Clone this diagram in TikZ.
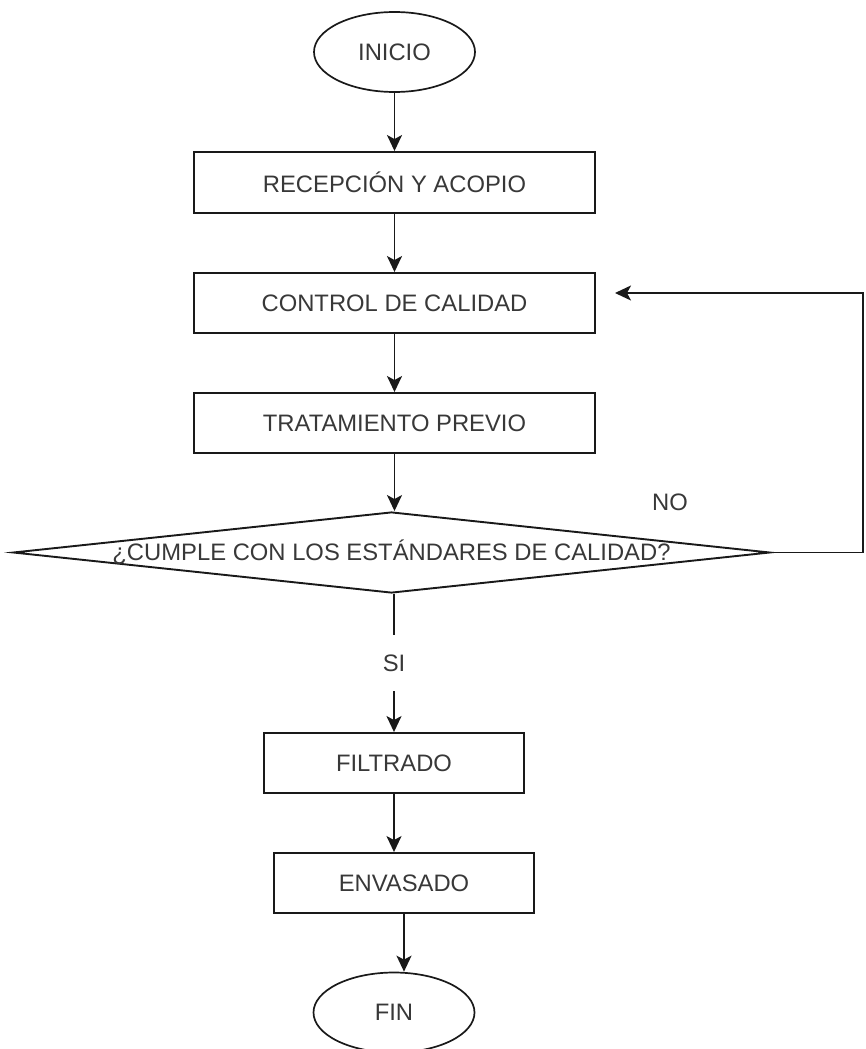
\documentclass[tikz,border=0pt]{standalone}
\usepackage{fontspec}
\setmainfont{Liberation Sans}
\usetikzlibrary{shapes.geometric,arrows.meta}

\begin{document}
\begin{tikzpicture}[x=1pt,y=-1pt,
  font=\fontsize{23.8}{28}\selectfont,
  every node/.style={text=black!78},
  line/.style={draw=black!90, line width=1.9pt},
  flow/.style={line, -{Stealth[length=16pt,width=15pt,inset=4pt]}},
  terminal/.style={ellipse, draw=black!90, line width=1.7pt, inner sep=0pt,
                   minimum width=161pt, minimum height=80pt},
  process/.style={rectangle, draw=black!90, line width=1.9pt, inner sep=0pt,
                  minimum height=60pt},
  decision/.style={diamond, draw=black!90, line width=1.9pt, inner sep=0pt,
                   minimum width=757pt, minimum height=81pt}
]
\useasboundingbox (0,0) rectangle (865,1049);

% start / end
\node[terminal] (inicio) at (394.5,52) {INICIO};
\node[terminal] (fin) at (394,1012.5) {FIN};

% process steps
\node[process, minimum width=401pt, minimum height=61pt] (recep) at (394.5,182.5) {RECEPCIÓN Y ACOPIO};
\node[process, minimum width=401pt] (control) at (394.5,303) {CONTROL DE CALIDAD};
\node[process, minimum width=401pt] (trat) at (394.5,423) {TRATAMIENTO PREVIO};
\node[process, minimum width=260pt] (filtrado) at (394,763) {FILTRADO};
\node[process, minimum width=260pt] (envasado) at (404,883) {ENVASADO};

% quality decision
\node[decision, label={center:¿CUMPLE CON LOS ESTÁNDARES DE CALIDAD?}] (dec) at (391.5,552.5) {};

% return path
\coordinate (corner) at (863,552.5);
\coordinate (back) at (615,293);

% connectors
\draw[flow] (inicio) -- (recep);
\draw[flow] (recep) -- (control);
\draw[flow] (control) -- (trat);
\draw[flow] (trat.south) -- (trat.south |- dec.north);
\draw[flow] (dec.south -| filtrado.north) -- node[fill=white, inner xsep=6pt, inner ysep=20pt] (si) {SI} (filtrado.north);
\draw[flow] (filtrado.south) -- (filtrado.south |- envasado.north);
\draw[flow] (envasado.south) -- (envasado.south |- fin.north);
\draw[flow] (dec.east) -- (corner) |- (back);

\node (no) at (670,502) {NO};
\end{tikzpicture}
\end{document}
